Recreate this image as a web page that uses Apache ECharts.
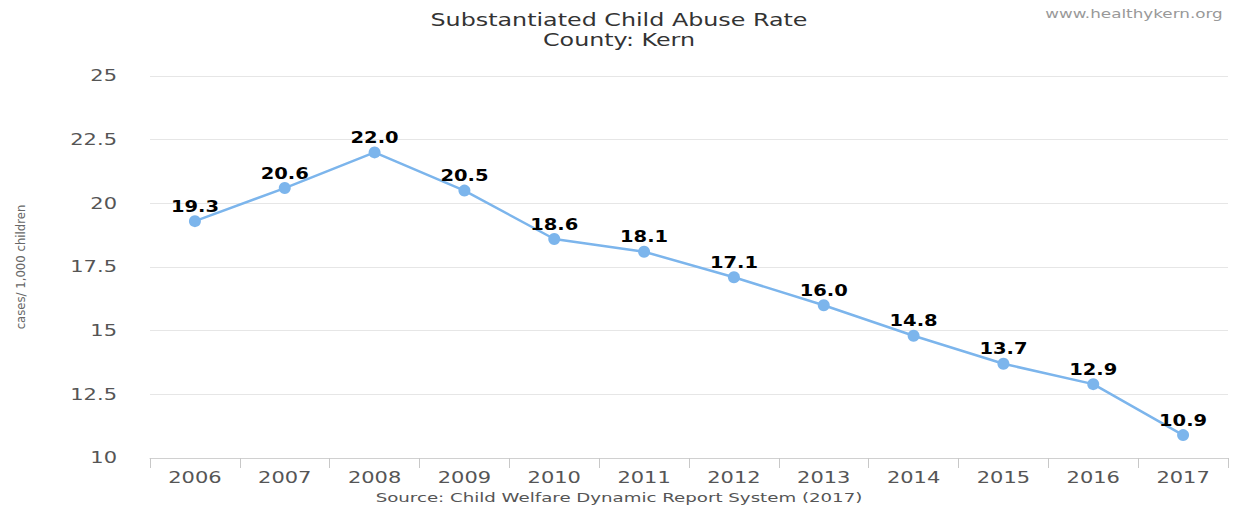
<!DOCTYPE html>
<html>
<head>
<meta charset="utf-8">
<script src="https://cdn.jsdelivr.net/npm/echarts@6/dist/echarts.min.js"></script>
<style>
  html, body { margin: 0; padding: 0; background: #fff; }
  #chart { width: 1238px; height: 505px; }
</style>
</head>
<body>
<div id="chart"></div>
<script>
// data
const years = ["2006", "2007", "2008", "2009", "2010", "2011", "2012", "2013", "2014", "2015", "2016", "2017"];
const rates = [19.3, 20.6, 22.0, 20.5, 18.6, 18.1, 17.1, 16.0, 14.8, 13.7, 12.9, 10.9];
const credit = "www.healthykern.org";

const chart = echarts.init(document.getElementById("chart"), null, { renderer: "svg" });
const font = "DejaVu Sans";

chart.setOption({
  animation: false,
  title: [
    {
      text: "Substantiated Child Abuse Rate\nCounty: Kern",
      left: "center",
      top: 5,
      textStyle: { fontFamily: font, fontSize: 17, fontWeight: "normal", color: "#333", lineHeight: 20 },
    },
    {
      text: credit,
      right: 10,
      top: 2,
      textStyle: { fontFamily: font, fontSize: 12, fontWeight: "normal", color: "#999" },
    },
    {
      text: "Source: Child Welfare Dynamic Report System (2017)",
      left: "center",
      top: 486,
      textStyle: { fontFamily: font, fontSize: 13, fontWeight: "normal", color: "#555" },
    },
  ],
  grid: { left: 150, right: 10, top: 76, bottom: 47 },
  xAxis: {
    type: "category",
    data: years,
    boundaryGap: true,
    axisLine: { lineStyle: { color: "#d0d0d0" } },
    axisTick: { show: true, length: 10, lineStyle: { color: "#c8c8c8" } },
    axisLabel: { fontFamily: font, fontSize: 15, color: "#555", margin: 12 },
  },
  yAxis: {
    type: "value",
    min: 10,
    max: 25,
    interval: 2.5,
    name: "cases/ 1,000 children",
    nameLocation: "middle",
    nameGap: 123,
    nameRotate: 90,
    nameTextStyle: { fontFamily: "DejaVu Sans Condensed", fontSize: 13, color: "#666" },
    axisLine: { show: false },
    axisTick: { show: false },
    axisLabel: { fontFamily: font, fontSize: 15, color: "#555", margin: 33 },
    splitLine: { lineStyle: { color: "#e6e6e6" } },
  },
  series: [
    {
      type: "line",
      data: rates,
      symbol: "circle",
      symbolSize: 12,
      lineStyle: { color: "#7cb5ec", width: 2.5 },
      itemStyle: { color: "#7cb5ec" },
      label: {
        show: true,
        position: "top",
        distance: 1,
        formatter: (p) => p.value.toFixed(1),
        fontFamily: font,
        fontSize: 15,
        fontWeight: "bold",
        color: "#000",
      },
    },
  ],
});

// the source picture is stretched sideways; widen each text about its anchor
document.querySelectorAll("#chart svg text").forEach((el) => {
  const cs = getComputedStyle(el);
  if (cs.fontFamily.indexOf("Condensed") >= 0) return;
  const bold = cs.fontWeight === "700" || cs.fontWeight === "bold";
  const s = bold ? 1.3 : 1.4;
  let anchor = el.getAttribute("text-anchor") || "start";
  if (el.textContent === credit) anchor = "end"; // keep it inside the right edge
  const bb = el.getBBox();
  const ox = anchor === "end" ? bb.x + bb.width : anchor === "middle" ? bb.x + bb.width / 2 : bb.x;
  const t = el.getAttribute("transform") || "";
  el.setAttribute("transform", t + " translate(" + ox + " 0) scale(" + s + " 1) translate(" + -ox + " 0)");
});
</script>
</body>
</html>
